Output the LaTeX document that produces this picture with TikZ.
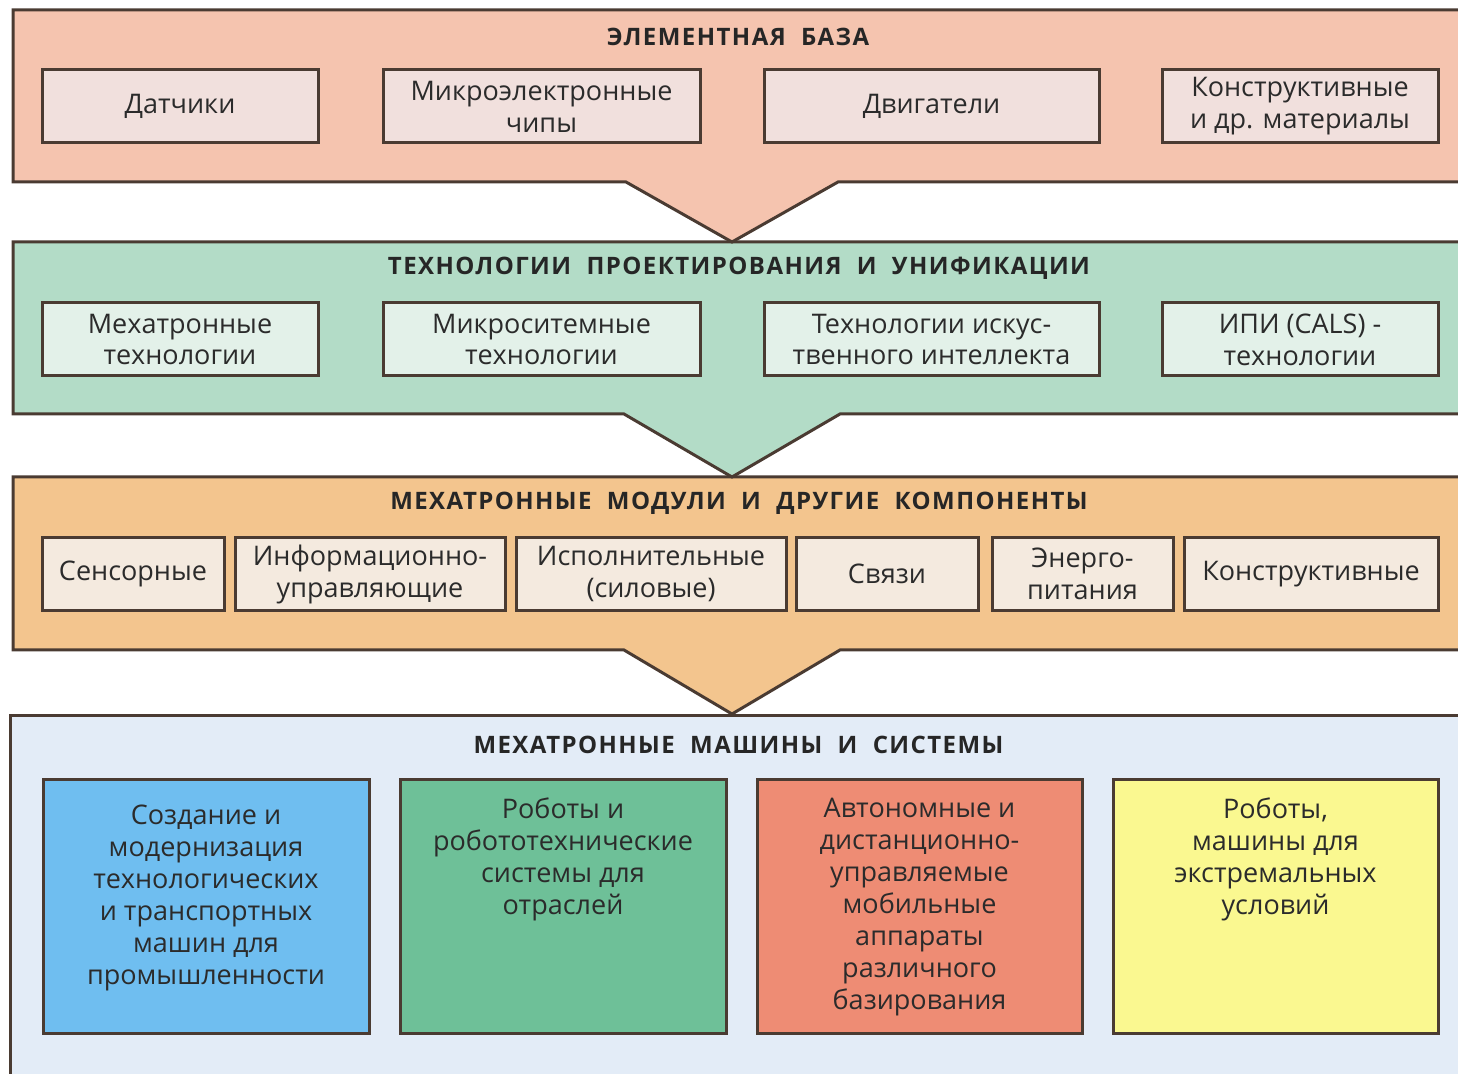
\documentclass[tikz,border=0pt]{standalone}
\usepackage{fontspec}
\setmainfont{Open Sans}
\usepackage{xcolor}
\usetikzlibrary{positioning}

\definecolor{edge}{HTML}{4A3B32}
\definecolor{ink}{HTML}{2B2B2B}
\definecolor{baseback}{HTML}{F5C4AF}
\definecolor{basebox}{HTML}{F1E0DD}
\definecolor{techback}{HTML}{B3DCC7}
\definecolor{techbox}{HTML}{E3F1E9}
\definecolor{modback}{HTML}{F3C58E}
\definecolor{modbox}{HTML}{F4EADF}
\definecolor{sysback}{HTML}{E3ECF7}
\definecolor{sysblue}{HTML}{6FBEF0}
\definecolor{sysgreen}{HTML}{6EC098}
\definecolor{sysred}{HTML}{EE8C74}
\definecolor{sysyellow}{HTML}{FAF890}

\begin{document}
\begin{tikzpicture}[x=0.5pt, y=-0.5pt, font=\fontsize{13.5}{16}\selectfont, text=ink,
		panel/.style={draw=edge, line width=1.5pt, line join=miter},
		title/.style={font=\fontsize{12}{14}\selectfont\bfseries\addfontfeature{LetterSpace=6}, text=black!85},
		box/.style={draw=edge, line width=1.5pt, align=center, inner sep=2pt, minimum height=36.5pt},
		sysbox/.style={draw=edge, line width=1.5pt, minimum height=126.5pt},
		systext/.style={align=center, inner sep=0pt, anchor=north}]
		\useasboundingbox (0,0) rectangle (1458,1074);
		
		% panels (lowest first, so the notches sit on top)
		\draw[panel, fill=sysback] (10,1090) -- (10,716) -- (1475,716) -- (1475,1090);
		\draw[panel, fill=modback] (13,477) -- (1475,477) -- (1475,650) -- (840,650) -- (732,714) -- (624,650) -- (13,650) -- cycle;
		\draw[panel, fill=techback] (13,242) -- (1475,242) -- (1475,414) -- (840,414) -- (732,477) -- (624,414) -- (13,414) -- cycle;
		\draw[panel, fill=baseback] (13,10) -- (1475,10) -- (1475,182) -- (838,182) -- (732,242) -- (626,182) -- (13,182) -- cycle;
		
		% Element base
		\node[title] (basetitle) at (738,37) {ЭЛЕМЕНТНАЯ \ БАЗА};
		\node[box, fill=basebox, minimum width=138pt] (sensors) at (180,106.5) {Датчики};
		\node[box, fill=basebox, minimum width=158.5pt] (chips) at (541.5,106.5) {Микроэлектронные\\чипы};
		\node[box, fill=basebox, minimum width=167.5pt] (motors) at (931.5,106.5) {Двигатели};
		\node[box, fill=basebox, minimum width=138pt] (materials) at (1300,106.5) {Конструктивные\\и др. материалы};
		
		% Design technologies
		\node[title] (techtitle) at (739,268) {ТЕХНОЛОГИИ \ ПРОЕКТИРОВАНИЯ \ И \ УНИФИКАЦИИ};
		\node[box, fill=techbox, minimum width=138pt] (mechtech) at (180,339.5) {Мехатронные\\технологии};
		\node[box, fill=techbox, minimum width=158.5pt] (microtech) at (541.5,339.5) {Микроситемные\\технологии};
		\node[box, fill=techbox, minimum width=167.5pt] (aitech) at (931.5,339.5) {Технологии искус-\\твенного интеллекта};
		\node[box, fill=techbox, minimum width=138pt] (calstech) at (1300,339.5) {ИПИ (CALS) -\\технологии};
		
		% Modules
		\node[title] (modtitle) at (739,503) {МЕХАТРОННЫЕ \ МОДУЛИ \ И \ ДРУГИЕ \ КОМПОНЕНТЫ};
		\node[box, fill=modbox, minimum width=91pt] (sensmod) at (133,574) {Сенсорные};
		\node[box, fill=modbox, minimum width=135pt] (infomod) at (370,574) {Информационно-\\управляющие};
		\node[box, fill=modbox, minimum width=135pt] (actmod) at (651,574) {Исполнительные\\(силовые)};
		\node[box, fill=modbox, minimum width=91pt] (linkmod) at (887,574) {Связи};
		\node[box, fill=modbox, minimum width=90.5pt] (powmod) at (1082.5,574) {Энерго-\\питания};
		\node[box, fill=modbox, minimum width=127pt] (constmod) at (1311,574) {Конструктивные};
		
		% Machines and systems
		\node[title] (systitle) at (738.5,745) {МЕХАТРОННЫЕ \ МАШИНЫ \ И \ СИСТЕМЫ};
		\node[sysbox, fill=sysblue, minimum width=163pt] (industry) at (206,906.5) {};
		\node[systext, below=13pt of industry.north] (industrytext) {Создание и\\модернизация\\технологических\\и транспортных\\машин для\\промышленности};
		\node[sysbox, fill=sysgreen, minimum width=163pt] (robots) at (563,906.5) {};
		\node[systext, below=9.5pt of robots.north] (robotstext) {Роботы и\\робототехнические\\системы для\\отраслей};
		\node[sysbox, fill=sysred, minimum width=162.5pt] (mobile) at (919.5,906.5) {};
		\node[systext, below=9.5pt of mobile.north] (mobiletext) {Автономные и\\дистанционно-\\управляемые\\мобильные\\аппараты\\различного\\базирования};
		\node[sysbox, fill=sysyellow, minimum width=162.5pt] (extreme) at (1275.5,906.5) {};
		\node[systext, below=9.5pt of extreme.north] (extremetext) {Роботы,\\машины для\\экстремальных\\условий};
	\end{tikzpicture}
\end{document}
